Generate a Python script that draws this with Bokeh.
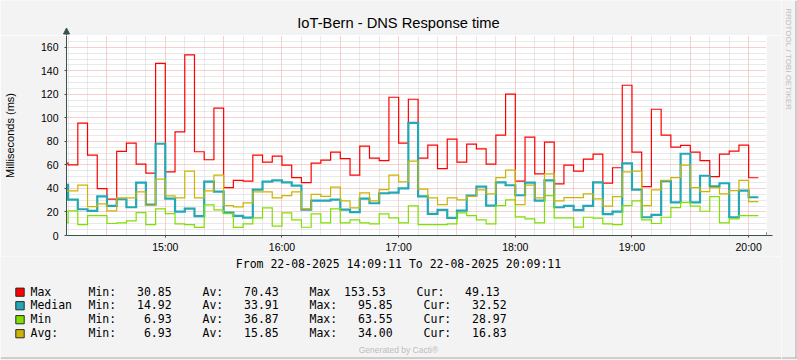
import math
from bokeh.plotting import figure
from bokeh.models import Range1d, FixedTicker, Arrow, NormalHead
from bokeh.layouts import column, row
from bokeh.core.properties import value
from bokeh.embed import file_html
from bokeh.resources import INLINE

# ---------------- data ----------------
START_MIN = 14 * 60 + 5      # first 5-minute interval starts at 14:05
STEP_MIN = 5
X0 = 14 * 60 + 9 + 11 / 60   # 14:09:11
X1 = 20 * 60 + 9 + 11 / 60   # 20:09:11
Y0, Y1 = 0, 170

max_ms = [61.5, 60.1, 95.5, 68.4, 39.8, 30.9, 71.5, 78.5, 60.7, 53.1,
          146.3, 54.0, 88.1, 153.5, 71.2, 64.4, 108.2, 40.7, 46.9, 46.3,
          68.4, 62.4, 67.5, 59.9, 49.2, 44.9, 61.6, 64.1, 70.9, 65.3,
          51.4, 76.0, 65.8, 63.6, 117.5, 78.5, 115.8, 65.8, 76.8, 56.8,
          81.9, 62.4, 77.7, 73.7, 60.7, 85.3, 120.1, 46.3, 83.6, 52.3,
          79.4, 43.8, 59.9, 54.8, 65.0, 69.2, 44.6, 57.6, 127.7, 70.9,
          41.5, 107.3, 85.3, 75.1, 76.6, 70.9, 63.6, 50.0, 69.2, 71.8,
          76.8, 49.1]
median_ms = [43.0, 30.5, 22.3, 20.9, 33.3, 25.1, 30.8, 24.0, 44.9, 26.3,
             78.0, 31.4, 20.3, 22.9, 16.4, 45.8, 37.3, 19.5, 16.7, 15.2,
             39.0, 45.8, 46.9, 45.2, 42.4, 22.0, 29.7, 29.7, 30.5, 22.0,
             19.8, 31.4, 27.4, 35.9, 36.4, 40.1, 95.8, 33.3, 18.4, 21.8,
             14.9, 21.2, 33.9, 41.5, 25.4, 45.2, 42.7, 34.2, 44.9, 29.7,
             46.9, 24.0, 25.1, 21.5, 25.1, 45.2, 18.1, 20.3, 61.3, 39.0,
             15.5, 17.5, 46.3, 28.2, 69.5, 28.2, 50.8, 41.8, 44.4, 15.5,
             38.1, 32.5]
min_ms = [11.0, 20.9, 9.3, 16.9, 16.9, 10.2, 10.7, 12.4, 19.5, 9.3,
          22.6, 18.6, 9.9, 9.3, 6.9, 26.0, 21.8, 18.6, 6.9, 9.9,
          15.0, 23.4, 7.9, 19.2, 13.3, 7.0, 18.4, 10.7, 22.6, 10.7,
          13.3, 10.7, 9.9, 18.4, 15.0, 10.7, 25.1, 9.3, 9.3, 9.3,
          9.9, 19.2, 16.9, 13.3, 9.9, 25.4, 30.2, 15.8, 14.1, 10.7,
          33.9, 15.0, 15.0, 7.1, 15.5, 14.7, 9.9, 9.3, 25.4, 29.4,
          13.3, 10.2, 15.5, 23.7, 28.2, 24.9, 20.6, 33.1, 10.7, 14.1,
          16.9, 16.9]
avg_ms = [37.4, 37.9, 42.9, 24.6, 26.8, 20.9, 31.9, 31.9, 37.0, 25.7,
          48.0, 33.6, 31.9, 54.8, 31.9, 37.9, 51.4, 25.4, 24.3, 27.7,
          37.0, 37.0, 31.9, 33.9, 37.0, 22.6, 35.0, 33.3, 41.2, 29.4,
          23.4, 36.2, 29.4, 39.0, 51.4, 45.5, 63.3, 39.5, 31.9, 26.3,
          31.9, 30.2, 33.3, 38.7, 35.3, 49.2, 55.6, 26.3, 42.9, 31.9,
          52.3, 29.4, 32.2, 32.2, 35.3, 31.1, 24.9, 33.1, 54.0, 54.8,
          25.4, 38.7, 46.9, 49.2, 59.9, 40.7, 37.3, 40.7, 35.3, 38.1,
          46.9, 28.8]

hour_ticks = [15 * 60, 16 * 60, 17 * 60, 18 * 60, 19 * 60, 20 * 60]
hour_labels = ["15:00", "16:00", "17:00", "18:00", "19:00", "20:00"]
y_ticks = [0, 20, 40, 60, 80, 100, 120, 140, 160]

legend_names = ["Max", "Median", "Min", "Avg:"]
legend_mins = [30.85, 14.92, 6.93, 6.93]
legend_avs = [70.43, 33.91, 36.87, 15.85]
legend_max_labels = ["Max", "Max:", "Max:", "Max:"]
legend_maxs = [153.53, 95.85, 63.55, 34.00]
legend_curs = [49.13, 32.52, 28.97, 16.83]
series = [max_ms, median_ms, min_ms, avg_ms]
series_colors = ["#FF0000", "#22A9B5", "#7FE000", "#CCB400"]
series_widths = [1.2, 2.2, 1.2, 1.2]

title_text = "IoT-Bern - DNS Response time"
y_label_text = "Milliseconds (ms)"
range_text = "From 22-08-2025 14:09:11 To 22-08-2025 20:09:11"
side_text = "RRDTOOL / TOBI OETIKER"
footer_text = "Generated by Cacti\u00ae"

# ---------------- layout constants (page pixels) ----------------
W_ALL, H_ALL = 797, 360
WM = 781                 # width of main column
WS = W_ALL - WM          # right strip
TOP_H = 35               # title strip height (frame top)
CH_BOT = 256             # chart figure bottom
FL, FR, FB = 66, 766, 235
BG = "#F3F3F3"
AXIS = "#3A524A"
MGRID = "#F0A0A0"
GRID = "#D2D2D2"
EDGE = "#A8A8A8"
SANS = "Liberation Sans"
MONO = "DejaVu Sans Mono"
NB = "\u00a0"

XS = (FR - FL) / (X1 - X0)


def strip(width, height, x0, y0):
    f = figure(width=width, height=height, x_range=Range1d(x0, x0 + width),
               y_range=Range1d(y0 + height, y0), output_backend="svg",
               toolbar_location=None, min_border=0, title=None,
               x_axis_location=None, y_axis_location=None)
    f.frame_align = False
    f.grid.visible = False
    f.outline_line_color = None
    f.background_fill_color = BG
    f.border_fill_color = BG
    return f


# ---------------- title strip ----------------
pt = strip(WM, TOP_H, 0, 0)
pt.text(x=[398], y=[22], text=[title_text], text_font=value(SANS),
        text_font_size=value("14.7px"), text_align="center", text_baseline="middle",
        text_color="#000000")
# y-axis arrow head sticking out above the plot area
pt.segment(x0=[FL], y0=[TOP_H], x1=[FL], y1=[31], line_color=AXIS, line_width=1)
pt.patch(x=[FL - 3, FL, FL + 3], y=[33.5, 27.5, 33.5], fill_color=AXIS, line_color=AXIS)

# ---------------- chart ----------------
p = figure(width=WM, height=CH_BOT - TOP_H, x_range=Range1d(X0, X1), y_range=Range1d(Y0, Y1),
           output_backend="svg", toolbar_location=None, title=None,
           min_border_left=FL, min_border_right=WM - FR,
           min_border_top=0, min_border_bottom=CH_BOT - FB)
p.frame_align = False
p.background_fill_color = "white"
p.border_fill_color = BG
p.outline_line_color = None

half_hours = list(range(14 * 60 + 30, 20 * 60 + 1, 30))
ten_min = [t for t in range(14 * 60 + 10, 20 * 60 + 10, 10) if t % 30 != 0]
p.xgrid.ticker = FixedTicker(ticks=half_hours, minor_ticks=ten_min)
p.ygrid.ticker = FixedTicker(ticks=y_ticks, minor_ticks=[v for v in range(5, 170, 5) if v % 20 != 0])
for g in (p.xgrid[0], p.ygrid[0]):
    g.grid_line_color = MGRID
    g.grid_line_dash = "1 1"
    g.grid_line_width = 1
    g.minor_grid_line_color = GRID
    g.minor_grid_line_dash = "1 1"
    g.minor_grid_line_width = 1

p.xaxis.ticker = FixedTicker(ticks=hour_ticks)
p.xaxis.major_label_overrides = dict(zip(hour_ticks, hour_labels))
p.yaxis.ticker = FixedTicker(ticks=y_ticks)
for ax in (p.xaxis[0], p.yaxis[0]):
    ax.axis_line_color = AXIS
    ax.major_tick_line_color = AXIS
    ax.minor_tick_line_color = None
    ax.major_tick_in = 0
    ax.major_tick_out = 2
    ax.major_label_text_font = SANS
    ax.major_label_text_font_size = "10.5px"
    ax.major_label_text_color = "#000000"
p.xaxis.major_label_standoff = 3
p.yaxis.major_label_standoff = 6
p.yaxis.axis_label = y_label_text
p.yaxis.axis_label_text_font = SANS
p.yaxis.axis_label_text_font_size = "11px"
p.yaxis.axis_label_text_font_style = "normal"
p.yaxis.axis_label_text_color = "#000000"
p.yaxis.axis_label_standoff = 22

xs = [START_MIN + STEP_MIN * i for i in range(len(max_ms) + 1)]
for vals, col, lw in zip(series, series_colors, series_widths):
    p.step(xs, vals + [vals[-1]], mode="after", line_color=col, line_width=lw,
           line_join="miter")

p.add_layout(Arrow(end=NormalHead(size=6, fill_color=AXIS, line_color=AXIS),
                   x_start=X1, y_start=0, x_end=X1 + 6 / XS, y_end=0,
                   line_color=AXIS, line_width=1))

# ---------------- legend panel ----------------
p2 = strip(WM, H_ALL - CH_BOT, 0, CH_BOT)

CW = 6.92
row_y = [291, 304.5, 318.5, 332.5]
p2.text(x=[398], y=[263.3], text=[range_text.replace(" ", NB)], text_font=value(MONO),
        text_font_size=value("11.5px"), text_align="center", text_baseline="middle",
        text_color="#000000")

lx, ly, lt = [], [], []
for k in range(4):
    y = row_y[k]
    max_txt = f"{legend_max_labels[k]}{legend_maxs[k]:8.2f}"
    pieces = [(30, legend_names[k]),
              (88, f"Min:{legend_mins[k]:8.2f}"),
              (202, f"Av:{legend_avs[k]:8.2f}"),
              (309, max_txt),
              (309 + len(max_txt) * CW + 31, f"Cur:{legend_curs[k]:8.2f}")]
    for x, t in pieces:
        lx.append(x); ly.append(y); lt.append(t.replace(" ", NB))
p2.text(x=lx, y=ly, text=lt, text_font=value(MONO), text_font_size=value("11.5px"),
        text_align="left", text_baseline="middle", text_color="#000000")

p2.quad(left=[15.3] * 4, right=[23.7] * 4,
        top=[y - 3.4 for y in row_y], bottom=[y + 4.8 for y in row_y],
        fill_color=series_colors, line_color="#2A2A2A", line_width=1)

p2.text(x=[398], y=[349], text=[footer_text], text_font=value(SANS),
        text_font_size=value("8.5px"), text_align="center", text_baseline="middle",
        text_color="#BDBDBD")
p2.segment(x0=[0], y0=[357.5], x1=[WM], y1=[357.5], line_color=EDGE, line_width=1)

# ---------------- right strip ----------------
ps = strip(WS, H_ALL, WM, 0)
ps.text(x=[787.5], y=[58.5], text=[side_text.replace(" ", NB)], angle=-math.pi / 2,
        text_font=value(SANS), text_font_size=value("8px"), text_align="center",
        text_baseline="middle", text_color="#BEBEBE")
ps.segment(x0=[795.5], y0=[0], x1=[795.5], y1=[358], line_color=EDGE, line_width=1)
ps.segment(x0=[WM], y0=[357.5], x1=[796], y1=[357.5], line_color=EDGE, line_width=1)

layout = row(column(pt, p, p2, spacing=0), ps, spacing=0)
open("out.html", "w").write(file_html(layout, INLINE))
